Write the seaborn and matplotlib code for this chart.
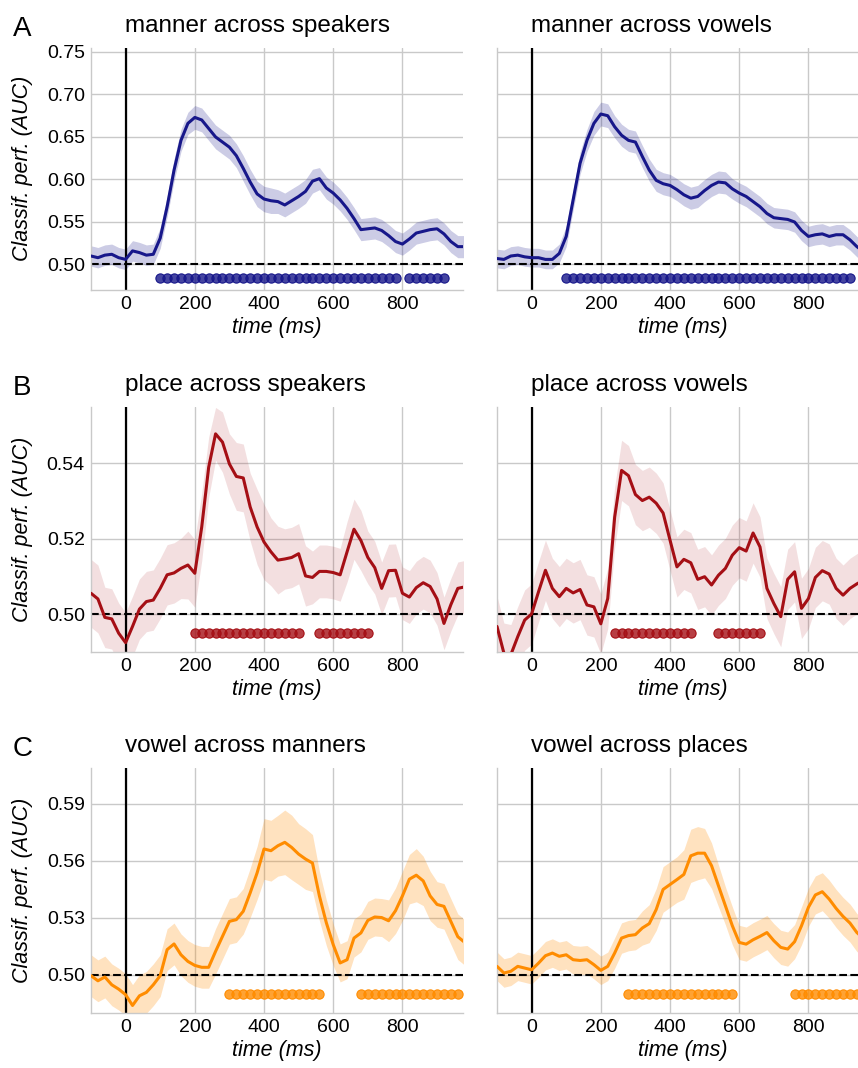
import numpy as np
import matplotlib
matplotlib.use("Agg")
import matplotlib.pyplot as plt
from matplotlib.colors import to_rgba
from matplotlib.ticker import FormatStrFormatter
import seaborn as sns

# sampling grid of the decoding time courses (ms)
times = np.arange(-100, 1000, 20)

# A: manner
manner_spk = [0.510, 0.508, 0.511, 0.512, 0.508, 0.506, 0.516, 0.514, 0.511, 0.512,
              0.531, 0.568, 0.611, 0.646, 0.666, 0.673, 0.670, 0.660, 0.650, 0.644,
              0.638, 0.628, 0.613, 0.597, 0.583, 0.577, 0.575, 0.574, 0.570, 0.575,
              0.580, 0.586, 0.598, 0.601, 0.590, 0.584, 0.576, 0.566, 0.554, 0.541,
              0.542, 0.543, 0.540, 0.534, 0.527, 0.524, 0.530, 0.537, 0.539, 0.541,
              0.542, 0.536, 0.527, 0.521, 0.521]
manner_spk_sem = [0.012, 0.012, 0.012, 0.012, 0.012, 0.012, 0.012, 0.012, 0.012, 0.012,
                  0.012, 0.012, 0.013, 0.013, 0.013, 0.014, 0.014, 0.014, 0.014, 0.014,
                  0.014, 0.014, 0.015, 0.015, 0.015, 0.015, 0.015, 0.014, 0.014, 0.014,
                  0.014, 0.014, 0.014, 0.013, 0.013, 0.013, 0.013, 0.013, 0.013, 0.013,
                  0.013, 0.013, 0.013, 0.013, 0.013, 0.013, 0.013, 0.013, 0.013, 0.013,
                  0.013, 0.013, 0.013, 0.013, 0.013]
manner_vow = [0.507, 0.506, 0.510, 0.511, 0.509, 0.508, 0.508, 0.506, 0.506, 0.513,
              0.533, 0.576, 0.619, 0.646, 0.666, 0.677, 0.675, 0.662, 0.652, 0.646,
              0.644, 0.627, 0.611, 0.599, 0.595, 0.593, 0.588, 0.582, 0.578, 0.580,
              0.587, 0.593, 0.597, 0.596, 0.589, 0.584, 0.580, 0.574, 0.568, 0.560,
              0.555, 0.554, 0.553, 0.550, 0.540, 0.533, 0.535, 0.536, 0.533, 0.535,
              0.535, 0.529, 0.521, 0.515, 0.512]
manner_vow_sem = [0.011, 0.011, 0.011, 0.011, 0.011, 0.011, 0.011, 0.011, 0.011, 0.011,
                  0.012, 0.012, 0.013, 0.013, 0.014, 0.014, 0.014, 0.013, 0.013, 0.013,
                  0.013, 0.013, 0.013, 0.013, 0.013, 0.013, 0.013, 0.013, 0.013, 0.013,
                  0.013, 0.013, 0.013, 0.013, 0.012, 0.012, 0.012, 0.012, 0.012, 0.012,
                  0.012, 0.012, 0.012, 0.012, 0.012, 0.012, 0.012, 0.012, 0.012, 0.012,
                  0.012, 0.012, 0.012, 0.012, 0.012]

# B: place
place_spk = [0.5055, 0.5040, 0.4991, 0.4987, 0.4949, 0.4924, 0.4967, 0.5013, 0.5033, 0.5037,
             0.5068, 0.5104, 0.5109, 0.5121, 0.5130, 0.5108, 0.5231, 0.5389, 0.5478, 0.5456,
             0.5398, 0.5365, 0.5361, 0.5284, 0.5231, 0.5191, 0.5165, 0.5143, 0.5146, 0.5150,
             0.5160, 0.5101, 0.5097, 0.5113, 0.5113, 0.5110, 0.5104, 0.5165, 0.5225, 0.5195,
             0.5150, 0.5123, 0.5068, 0.5115, 0.5116, 0.5055, 0.5045, 0.5070, 0.5083, 0.5073,
             0.5040, 0.4975, 0.5025, 0.5068, 0.5072]
place_spk_sem = [0.009, 0.009, 0.008, 0.008, 0.008, 0.008, 0.008, 0.008, 0.008, 0.008,
                 0.008, 0.008, 0.008, 0.008, 0.009, 0.009, 0.009, 0.008, 0.007, 0.008,
                 0.008, 0.009, 0.009, 0.009, 0.010, 0.010, 0.009, 0.009, 0.008, 0.008,
                 0.008, 0.008, 0.007, 0.007, 0.007, 0.007, 0.007, 0.008, 0.008, 0.008,
                 0.007, 0.007, 0.007, 0.007, 0.007, 0.007, 0.007, 0.007, 0.007, 0.007,
                 0.007, 0.007, 0.007, 0.007, 0.007]
place_vow = [0.4967, 0.4896, 0.4892, 0.4940, 0.4984, 0.5000, 0.5059, 0.5116, 0.5068, 0.5046,
             0.5068, 0.5056, 0.5065, 0.5024, 0.5019, 0.4974, 0.5041, 0.5257, 0.5381, 0.5367,
             0.5317, 0.5301, 0.5310, 0.5294, 0.5268, 0.5196, 0.5125, 0.5145, 0.5136, 0.5092,
             0.5099, 0.5077, 0.5103, 0.5121, 0.5156, 0.5176, 0.5167, 0.5215, 0.5178, 0.5068,
             0.5028, 0.4993, 0.5092, 0.5112, 0.5015, 0.5041, 0.5097, 0.5115, 0.5106, 0.5068,
             0.5050, 0.5068, 0.5080, 0.5090, 0.5090]
place_vow_sem = [0.008, 0.008, 0.008, 0.008, 0.008, 0.008, 0.008, 0.008, 0.008, 0.008,
                 0.008, 0.008, 0.008, 0.008, 0.008, 0.008, 0.008, 0.008, 0.008, 0.008,
                 0.008, 0.008, 0.008, 0.008, 0.008, 0.008, 0.008, 0.008, 0.008, 0.008,
                 0.008, 0.008, 0.008, 0.008, 0.008, 0.008, 0.008, 0.008, 0.008, 0.008,
                 0.008, 0.008, 0.008, 0.008, 0.008, 0.008, 0.008, 0.008, 0.008, 0.008,
                 0.008, 0.008, 0.008, 0.008, 0.008]

# C: vowel
vowel_man = [0.4995, 0.4968, 0.4988, 0.4947, 0.4924, 0.4895, 0.4838, 0.4889, 0.4907, 0.4947,
             0.4995, 0.5132, 0.5162, 0.5105, 0.5070, 0.5049, 0.5039, 0.5039, 0.5123, 0.5202,
             0.5281, 0.5290, 0.5334, 0.5431, 0.5536, 0.5662, 0.5653, 0.5679, 0.5697, 0.5670,
             0.5635, 0.5609, 0.5588, 0.5415, 0.5274, 0.5158, 0.5062, 0.5079, 0.5193, 0.5220,
             0.5286, 0.5304, 0.5301, 0.5284, 0.5337, 0.5415, 0.5503, 0.5524, 0.5494, 0.5415,
             0.5370, 0.5360, 0.5280, 0.5200, 0.5170]
vowel_man_sem = [0.011, 0.011, 0.011, 0.011, 0.011, 0.011, 0.011, 0.011, 0.011, 0.011,
                 0.011, 0.011, 0.011, 0.011, 0.011, 0.011, 0.011, 0.011, 0.012, 0.012,
                 0.012, 0.012, 0.012, 0.013, 0.014, 0.016, 0.016, 0.016, 0.017, 0.017,
                 0.016, 0.016, 0.015, 0.013, 0.012, 0.011, 0.010, 0.010, 0.010, 0.010,
                 0.010, 0.010, 0.010, 0.011, 0.012, 0.013, 0.013, 0.014, 0.013, 0.013,
                 0.012, 0.012, 0.012, 0.012, 0.012]
vowel_plc = [0.5044, 0.5009, 0.5018, 0.5044, 0.5035, 0.5026, 0.5061, 0.5100, 0.5114, 0.5097,
             0.5105, 0.5079, 0.5075, 0.5079, 0.5053, 0.5023, 0.5044, 0.5114, 0.5193, 0.5206,
             0.5211, 0.5246, 0.5269, 0.5343, 0.5449, 0.5475, 0.5501, 0.5528, 0.5626, 0.5640,
             0.5640, 0.5574, 0.5468, 0.5363, 0.5258, 0.5170, 0.5161, 0.5184, 0.5202, 0.5222,
             0.5179, 0.5144, 0.5135, 0.5174, 0.5258, 0.5355, 0.5420, 0.5437, 0.5398, 0.5349,
             0.5307, 0.5272, 0.5222, 0.5190, 0.5170]
vowel_plc_sem = [0.0075, 0.0075, 0.0075, 0.0075, 0.0075, 0.0075, 0.0075, 0.0075, 0.0075, 0.0075,
                 0.0075, 0.0075, 0.0075, 0.0075, 0.0075, 0.0075, 0.0075, 0.008, 0.008, 0.008,
                 0.008, 0.009, 0.010, 0.011, 0.012, 0.012, 0.012, 0.013, 0.014, 0.014,
                 0.013, 0.012, 0.011, 0.010, 0.010, 0.009, 0.009, 0.009, 0.009, 0.009,
                 0.009, 0.009, 0.009, 0.009, 0.010, 0.010, 0.010, 0.010, 0.010, 0.010,
                 0.010, 0.010, 0.010, 0.010, 0.010]

# time points with significant decoding (dots under the curves)
sig_manner_spk = list(range(100, 781, 20)) + list(range(820, 921, 20))
sig_manner_vow = list(range(100, 921, 20))
sig_place_spk = list(range(200, 501, 20)) + list(range(560, 701, 20))
sig_place_vow = list(range(240, 461, 20)) + list(range(540, 661, 20))
sig_vowel_man = list(range(300, 561, 20)) + list(range(680, 961, 20))
sig_vowel_plc = list(range(280, 581, 20)) + list(range(760, 981, 20))

titles = ["manner across speakers", "manner across vowels",
          "place across speakers", "place across vowels",
          "vowel across manners", "vowel across places"]

sns.set_style("whitegrid", {"grid.color": "#c9c9c9", "axes.edgecolor": "#c9c9c9",
                            "text.color": "black", "axes.labelcolor": "black",
                            "xtick.color": "black", "ytick.color": "black"})
plt.rcParams["font.family"] = ["Liberation Sans", "DejaVu Sans"]
plt.rcParams["grid.linewidth"] = 1.0

W, H = 858, 1068
fig = plt.figure(figsize=(W / 100, H / 100), dpi=100)

navy = "#17178a"
red = "#a50f15"
orange = "#ff8c00"

rows = [
    # top px, bottom px, ylim, yticks, dot y, color, band alpha, letter
    (47.7, 290.0, (0.47, 0.755), [0.50, 0.55, 0.60, 0.65, 0.70, 0.75], 0.4845, navy, 0.22, "A"),
    (406.7, 651.7, (0.49, 0.555), [0.50, 0.52, 0.54], 0.495, red, 0.13, "B"),
    (767.7, 1012.7, (0.48, 0.609), [0.50, 0.53, 0.56, 0.59], 0.490, orange, 0.25, "C"),
]
series = [
    [(manner_spk, manner_spk_sem, sig_manner_spk), (manner_vow, manner_vow_sem, sig_manner_vow)],
    [(place_spk, place_spk_sem, sig_place_spk), (place_vow, place_vow_sem, sig_place_vow)],
    [(vowel_man, vowel_man_sem, sig_vowel_man), (vowel_plc, vowel_plc_sem, sig_vowel_plc)],
]
lefts = [91, 497]
axw = 372

for r, (top, bot, ylim, yticks, doty, col, balpha, letter) in enumerate(rows):
    for c in range(2):
        mean, sem, sig = series[r][c]
        mean = np.array(mean)
        sem = np.array(sem)
        ax = fig.add_axes([lefts[c] / W, 1 - bot / H, axw / W, (bot - top) / H])
        ax.set_axisbelow(True)
        ax.fill_between(times, mean - sem, mean + sem, color=col, alpha=balpha, lw=0, zorder=1)
        ax.axvline(0, color="black", lw=1.6, zorder=2)
        ax.axhline(0.5, color="black", ls="--", lw=1.5, zorder=2)
        sns.lineplot(x=times, y=mean, color=col, linewidth=2.2, ax=ax, zorder=3)
        sns.scatterplot(x=sig, y=[doty] * len(sig), s=44, color=to_rgba(col, 0.8),
                        edgecolor=col, linewidth=0.8, ax=ax, zorder=4)
        ax.set_xlim(-100, 975)
        ax.set_ylim(*ylim)
        ax.set_xticks([0, 200, 400, 600, 800])
        ax.set_yticks(yticks)
        ax.yaxis.set_major_formatter(FormatStrFormatter("%.2f"))
        for s in ["top", "right"]:
            ax.spines[s].set_visible(False)
        for s in ["left", "bottom"]:
            ax.spines[s].set_linewidth(1.0)
        ax.tick_params(length=0, labelsize=14, pad=4.5)
        ax.set_xlabel("time (ms)", style="italic", fontsize=15.5, labelpad=3)
        if c == 0:
            ax.set_ylabel("Classif. perf. (AUC)", style="italic", fontsize=15.5)
            ax.yaxis.set_label_coords(-0.156, 0.5)
        else:
            ax.set_ylabel("")
            ax.tick_params(labelleft=False)
        ax.annotate(titles[2 * r + c], xy=(-3, 1), xycoords=("data", "axes fraction"),
                    xytext=(0, 11), textcoords="offset points",
                    ha="left", va="baseline", fontsize=17.5)
    fig.text(13 / W, 1 - (top - 12) / H, letter, fontsize=20, va="baseline", ha="left")

fig.savefig("out.png", dpi=100)
